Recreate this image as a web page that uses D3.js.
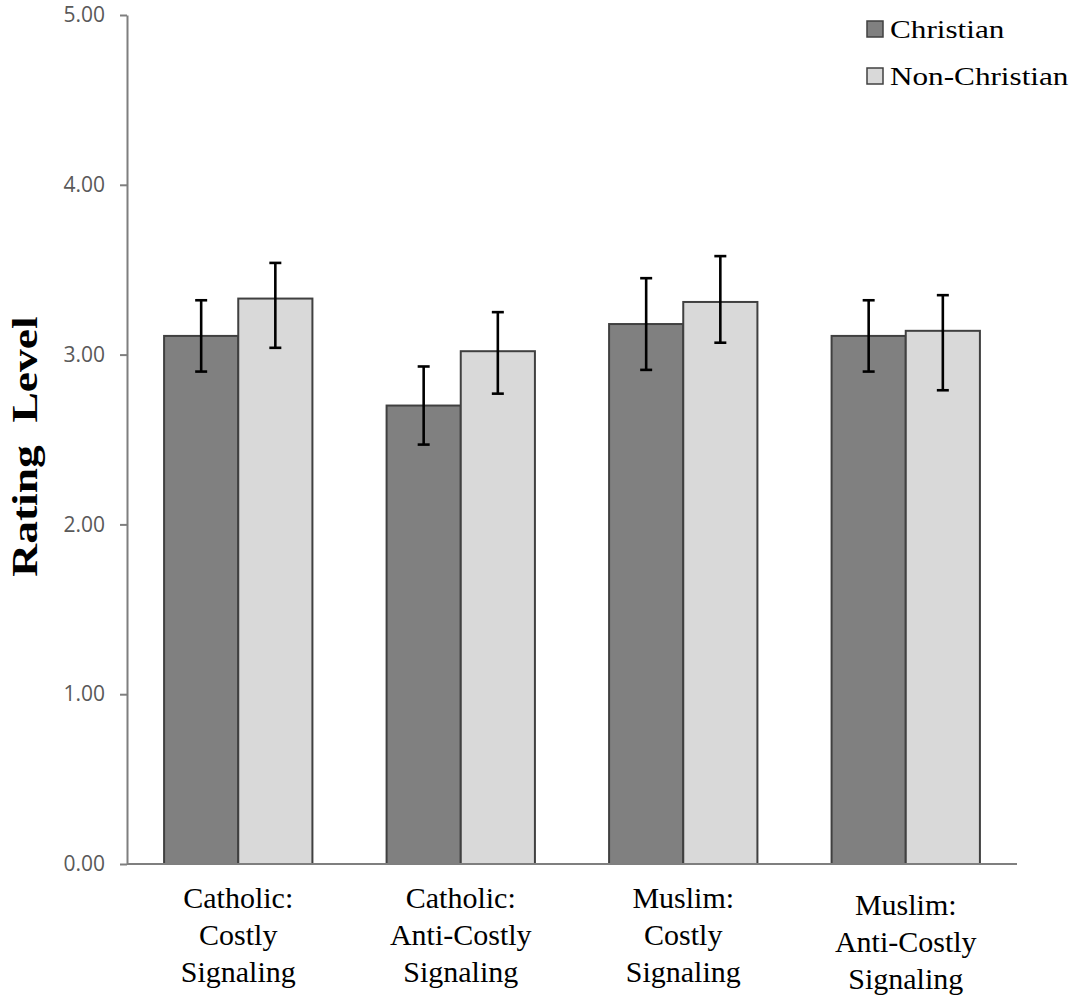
<!DOCTYPE html>
<html>
<head>
<meta charset="utf-8">
<script src="https://cdn.jsdelivr.net/npm/d3@7"></script>
<style>
  html, body { margin: 0; padding: 0; background: #fff; }
  svg { display: block; overflow: visible; }
</style>
</head>
<body>
<svg id="chart" width="1080" height="997"></svg>
<script>
// categories (each label is split into lines)
const categories = [
  ['Catholic:', 'Costly', 'Signaling'],
  ['Catholic:', 'Anti-Costly', 'Signaling'],
  ['Muslim:', 'Costly', 'Signaling'],
  ['Muslim:', 'Anti-Costly', 'Signaling']
];
const seriesNames = ['Christian', 'Non-Christian'];

// bar heights
const christian = [3.11, 2.70, 3.18, 3.11];
const nonChristian = [3.33, 3.02, 3.31, 3.14];

// error bar ends
const christianLow = [2.90, 2.47, 2.91, 2.90];
const christianHigh = [3.32, 2.93, 3.45, 3.32];
const nonChristianLow = [3.04, 2.77, 3.07, 2.79];
const nonChristianHigh = [3.54, 3.25, 3.58, 3.35];

const yTicks = [0, 1, 2, 3, 4, 5];

const colors = ['#808080', '#d9d9d9'];
const serif = 'Liberation Serif, Times New Roman, serif';

const width = 1080, height = 997;
const margin = { top: 15, right: 63, bottom: 133, left: 127 };
const innerWidth = width - margin.left - margin.right;
const innerHeight = height - margin.top - margin.bottom;

const svg = d3.select('#chart');
const g = svg.append('g')
  .attr('transform', `translate(${margin.left},${margin.top})`);

const x = d3.scaleBand()
  .domain(d3.range(categories.length))
  .range([0, innerWidth])
  .paddingInner(1 / 3)
  .paddingOuter(1 / 6);

const x1 = d3.scaleBand()
  .domain(d3.range(seriesNames.length))
  .range([0, x.bandwidth()]);

const y = d3.scaleLinear()
  .domain([0, 5])
  .range([innerHeight, 0]);

const rows = categories.map((c, i) => [
  { s: 0, v: christian[i], lo: christianLow[i], hi: christianHigh[i] },
  { s: 1, v: nonChristian[i], lo: nonChristianLow[i], hi: nonChristianHigh[i] }
]);

// Bars
const groups = g.selectAll('.group')
  .data(rows)
  .enter().append('g')
  .attr('class', 'group')
  .attr('transform', (d, i) => `translate(${x(i)},0)`);

groups.selectAll('rect')
  .data(d => d)
  .enter().append('rect')
  .attr('x', d => x1(d.s))
  .attr('y', d => y(d.v))
  .attr('width', x1.bandwidth())
  .attr('height', d => y(0) - y(d.v))
  .attr('fill', d => colors[d.s])
  .attr('stroke', '#404040')
  .attr('stroke-width', 2);

// Error bars
const capW = 12;
const err = groups.selectAll('.err')
  .data(d => d)
  .enter().append('g')
  .attr('class', 'err')
  .attr('stroke', '#000')
  .attr('stroke-width', 2.6);

err.append('line')
  .attr('x1', d => x1(d.s) + x1.bandwidth() / 2)
  .attr('x2', d => x1(d.s) + x1.bandwidth() / 2)
  .attr('y1', d => y(d.hi))
  .attr('y2', d => y(d.lo));

['hi', 'lo'].forEach(k => {
  err.append('line')
    .attr('x1', d => x1(d.s) + x1.bandwidth() / 2 - capW / 2)
    .attr('x2', d => x1(d.s) + x1.bandwidth() / 2 + capW / 2)
    .attr('y1', d => y(d[k]))
    .attr('y2', d => y(d[k]));
});

// Y Axis
const yAxis = g.append('g')
  .call(d3.axisLeft(y).tickValues(yTicks).tickFormat(d3.format('.2f')).tickSize(7).tickSizeOuter(0).tickPadding(15));
yAxis.select('.domain').attr('stroke', '#7f7f7f').attr('stroke-width', 2);
yAxis.selectAll('.tick line').attr('stroke', '#7f7f7f').attr('stroke-width', 2);
yAxis.selectAll('.tick text')
  .attr('fill', '#595959')
  .attr('font-family', 'Open Sans, sans-serif')
  .attr('font-size', 21);

// X Axis line
g.append('line')
  .attr('x1', 0).attr('x2', innerWidth)
  .attr('y1', y(0)).attr('y2', y(0))
  .attr('stroke', '#7f7f7f')
  .attr('stroke-width', 2);

// X labels, one text per line
categories.forEach((lines, i) => {
  const cx = x(i) + x.bandwidth() / 2;
  const top = innerHeight + (i === 3 ? 51 : 44);
  g.selectAll(null)
    .data(lines)
    .enter().append('text')
    .attr('x', cx)
    .attr('y', (d, j) => top + j * 37)
    .attr('text-anchor', 'middle')
    .attr('font-family', serif)
    .attr('font-size', 30)
    .attr('fill', '#000')
    .text(d => d);
});

// Y title
svg.append('text')
  .attr('transform', `translate(37,${margin.top + innerHeight / 2 + 7}) rotate(-90) scale(1.3,1)`)
  .attr('text-anchor', 'middle')
  .attr('font-family', serif)
  .attr('font-weight', 'bold')
  .attr('font-size', 35)
  .text('Rating\u00a0 Level');

// Legend
const legend = svg.append('g')
  .attr('transform', 'translate(867,21)');

const items = legend.selectAll('.item')
  .data(seriesNames)
  .enter().append('g')
  .attr('transform', (d, i) => `translate(0,${i * 47})`);

items.append('rect')
  .attr('width', 16).attr('height', 16)
  .attr('fill', (d, i) => colors[i])
  .attr('stroke', '#404040')
  .attr('stroke-width', 1.5);

items.append('text')
  .attr('transform', 'translate(23,17) scale(1.2,1)')
  .attr('font-family', serif)
  .attr('font-size', 26)
  .text(d => d);
</script>
</body>
</html>
